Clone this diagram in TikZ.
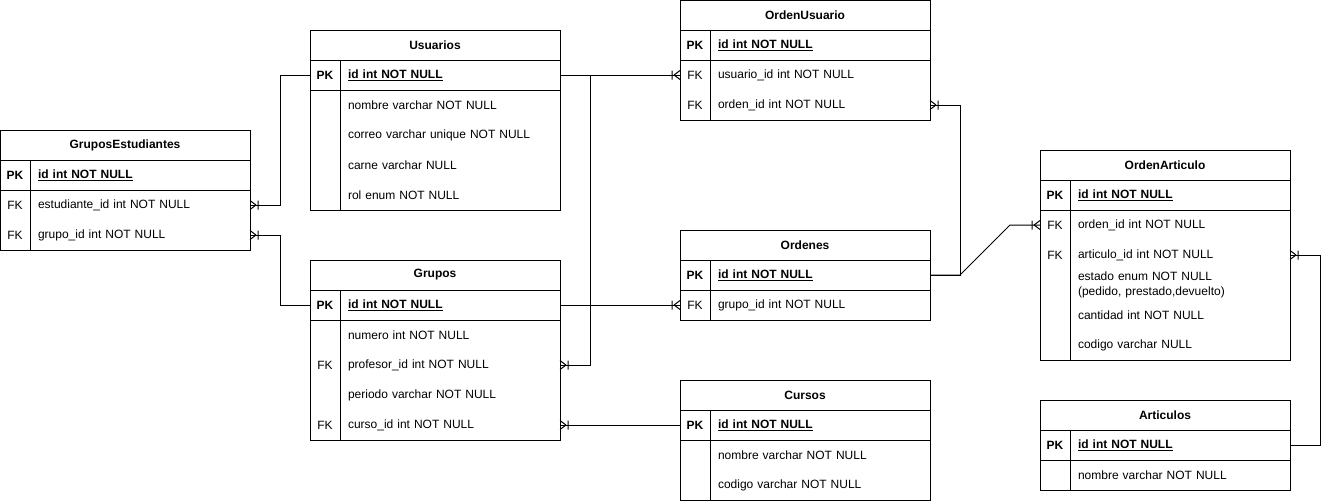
\documentclass[tikz,border=0pt]{standalone}
\usepackage{fontspec}
\setmainfont{Liberation Sans}
\usetikzlibrary{positioning,decorations.markings}

\tikzset{
  ent/.style={draw, minimum width=250pt, minimum height=30pt, inner sep=0pt, outer sep=0pt, font=\fontsize{12}{14.5}\selectfont\bfseries},
  row/.style={minimum height=30pt, text width=204pt, inner xsep=8pt, inner ysep=0pt, outer sep=0pt, align=left, font=\fontsize{12}{14.5}\selectfont},
  key/.style={minimum width=30pt, minimum height=30pt, inner sep=0pt, outer sep=0pt, font=\fontsize{12}{14.5}\selectfont},
  crow/.style={postaction={decorate, decoration={markings, mark=at position 1 with {
    \draw (-8pt,-4.5pt) -- (-8pt,4.5pt) (-6pt,0pt) -- (0pt,4.5pt) (-6pt,0pt) -- (0pt,-4.5pt);}}}}
}

\begin{document}
\begin{tikzpicture}[x=1pt, y=-1pt, line width=1pt]
  \useasboundingbox (0,0) rectangle (1329,501);

  % GruposEstudiantes
  \node[ent] (ge) at (125,145) {GruposEstudiantes};
  \node[row, below right=0pt and 30pt of ge.south west] (geId) {\underline{\textbf{id int NOT NULL}}};
  \node[row, below=0pt of geId] (geEst) {estudiante\_id int NOT NULL};
  \node[row, below=0pt of geEst] (geGrp) {grupo\_id int NOT NULL};
  \node[key, left=0pt of geId] (gePK) {\textbf{PK}};
  \node[key, left=0pt of geEst] (geEstK) {FK};
  \node[key, left=0pt of geGrp] (geGrpK) {FK};
  \draw (ge.south west) rectangle (geGrp.south east);
  \draw (geId.north west) -- (geGrp.south west);
  \draw (gePK.south west) -- (geId.south east);

  % Usuarios
  \node[ent] (usu) at (435,45) {Usuarios};
  \node[row, below right=0pt and 30pt of usu.south west] (usuId) {\underline{\textbf{id int NOT NULL}}};
  \node[row, below=0pt of usuId] (usuNombre) {nombre varchar NOT NULL};
  \node[row, below=0pt of usuNombre] (usuCorreo) {correo varchar unique NOT NULL};
  \node[row, below=0pt of usuCorreo] (usuCarne) {carne varchar NULL};
  \node[row, below=0pt of usuCarne] (usuRol) {rol enum NOT NULL};
  \node[key, left=0pt of usuId] (usuPK) {\textbf{PK}};
  \draw (usu.south west) rectangle (usuRol.south east);
  \draw (usuId.north west) -- (usuRol.south west);
  \draw (usuPK.south west) -- (usuId.south east);

  % Grupos
  \node[ent] (gru) at (435,275) {Grupos};
  \node[row, below right=0pt and 30pt of gru.south west] (gruId) {\underline{\textbf{id int NOT NULL}}};
  \node[row, below=0pt of gruId] (gruNum) {numero int NOT NULL};
  \node[row, below=0pt of gruNum] (gruProf) {profesor\_id int NOT NULL};
  \node[row, below=0pt of gruProf] (gruPer) {periodo varchar NOT NULL};
  \node[row, below=0pt of gruPer] (gruCur) {curso\_id int NOT NULL};
  \node[key, left=0pt of gruId] (gruPK) {\textbf{PK}};
  \node[key, left=0pt of gruProf] (gruProfK) {FK};
  \node[key, left=0pt of gruCur] (gruCurK) {FK};
  \draw (gru.south west) rectangle (gruCur.south east);
  \draw (gruId.north west) -- (gruCur.south west);
  \draw (gruPK.south west) -- (gruId.south east);

  % OrdenUsuario
  \node[ent] (ou) at (805,15) {OrdenUsuario};
  \node[row, below right=0pt and 30pt of ou.south west] (ouId) {\underline{\textbf{id int NOT NULL}}};
  \node[row, below=0pt of ouId] (ouUsu) {usuario\_id int NOT NULL};
  \node[row, below=0pt of ouUsu] (ouOrd) {orden\_id int NOT NULL};
  \node[key, left=0pt of ouId] (ouPK) {\textbf{PK}};
  \node[key, left=0pt of ouUsu] (ouUsuK) {FK};
  \node[key, left=0pt of ouOrd] (ouOrdK) {FK};
  \draw (ou.south west) rectangle (ouOrd.south east);
  \draw (ouId.north west) -- (ouOrd.south west);
  \draw (ouPK.south west) -- (ouId.south east);

  % Ordenes
  \node[ent] (ord) at (805,245) {Ordenes};
  \node[row, below right=0pt and 30pt of ord.south west] (ordId) {\underline{\textbf{id int NOT NULL}}};
  \node[row, below=0pt of ordId] (ordGrp) {grupo\_id int NOT NULL};
  \node[key, left=0pt of ordId] (ordPK) {\textbf{PK}};
  \node[key, left=0pt of ordGrp] (ordGrpK) {FK};
  \draw (ord.south west) rectangle (ordGrp.south east);
  \draw (ordId.north west) -- (ordGrp.south west);
  \draw (ordPK.south west) -- (ordId.south east);

  % Cursos
  \node[ent] (cur) at (805,395) {Cursos};
  \node[row, below right=0pt and 30pt of cur.south west] (curId) {\underline{\textbf{id int NOT NULL}}};
  \node[row, below=0pt of curId] (curNombre) {nombre varchar NOT NULL};
  \node[row, below=0pt of curNombre] (curCodigo) {codigo varchar NOT NULL};
  \node[key, left=0pt of curId] (curPK) {\textbf{PK}};
  \draw (cur.south west) rectangle (curCodigo.south east);
  \draw (curId.north west) -- (curCodigo.south west);
  \draw (curPK.south west) -- (curId.south east);

  % OrdenArticulo
  \node[ent] (oa) at (1165,165) {OrdenArticulo};
  \node[row, below right=0pt and 30pt of oa.south west] (oaId) {\underline{\textbf{id int NOT NULL}}};
  \node[row, below=0pt of oaId] (oaOrd) {orden\_id int NOT NULL};
  \node[row, below=0pt of oaOrd] (oaArt) {articulo\_id int NOT NULL};
  \node[row, below=0pt of oaArt] (oaEstado) {estado enum NOT NULL\\(pedido, prestado,devuelto)};
  \node[row, below=0pt of oaEstado] (oaCant) {cantidad int NOT NULL};
  \node[row, below=0pt of oaCant] (oaCodigo) {codigo varchar NULL};
  \node[key, left=0pt of oaId] (oaPK) {\textbf{PK}};
  \node[key, left=0pt of oaOrd] (oaOrdK) {FK};
  \node[key, left=0pt of oaArt] (oaArtK) {FK};
  \draw (oa.south west) rectangle (oaCodigo.south east);
  \draw (oaId.north west) -- (oaCodigo.south west);
  \draw (oaPK.south west) -- (oaId.south east);

  % Articulos
  \node[ent] (art) at (1165,415) {Articulos};
  \node[row, below right=0pt and 30pt of art.south west] (artId) {\underline{\textbf{id int NOT NULL}}};
  \node[row, below=0pt of artId] (artNombre) {nombre varchar NOT NULL};
  \node[key, left=0pt of artId] (artPK) {\textbf{PK}};
  \draw (art.south west) rectangle (artNombre.south east);
  \draw (artId.north west) -- (artNombre.south west);
  \draw (artPK.south west) -- (artId.south east);

  % relaciones
  \draw[crow] (usuPK.west) -- ++(-30,0) |- (geEst.east);
  \draw[crow] (gruPK.west) -- ++(-30,0) |- (geGrp.east);
  \draw[crow] (usuId.east) -- (ouUsuK.west);
  \draw[crow] (usuId.east) -- ++(30,0) |- (gruProf.east);
  \draw[crow] (gruId.east) -- (ordGrpK.west);
  \draw[crow] (curPK.west) -- (gruCur.east);
  \draw[crow] (ordId.east) -- ++(30,0) |- (ouOrd.east);
  \draw[crow] (ordId.east) -- ++(30,0) -- ++(50,-50) -- (oaOrdK.west);
  \draw[crow] (artId.east) -- ++(30,0) |- (oaArt.east);
\end{tikzpicture}
\end{document}
